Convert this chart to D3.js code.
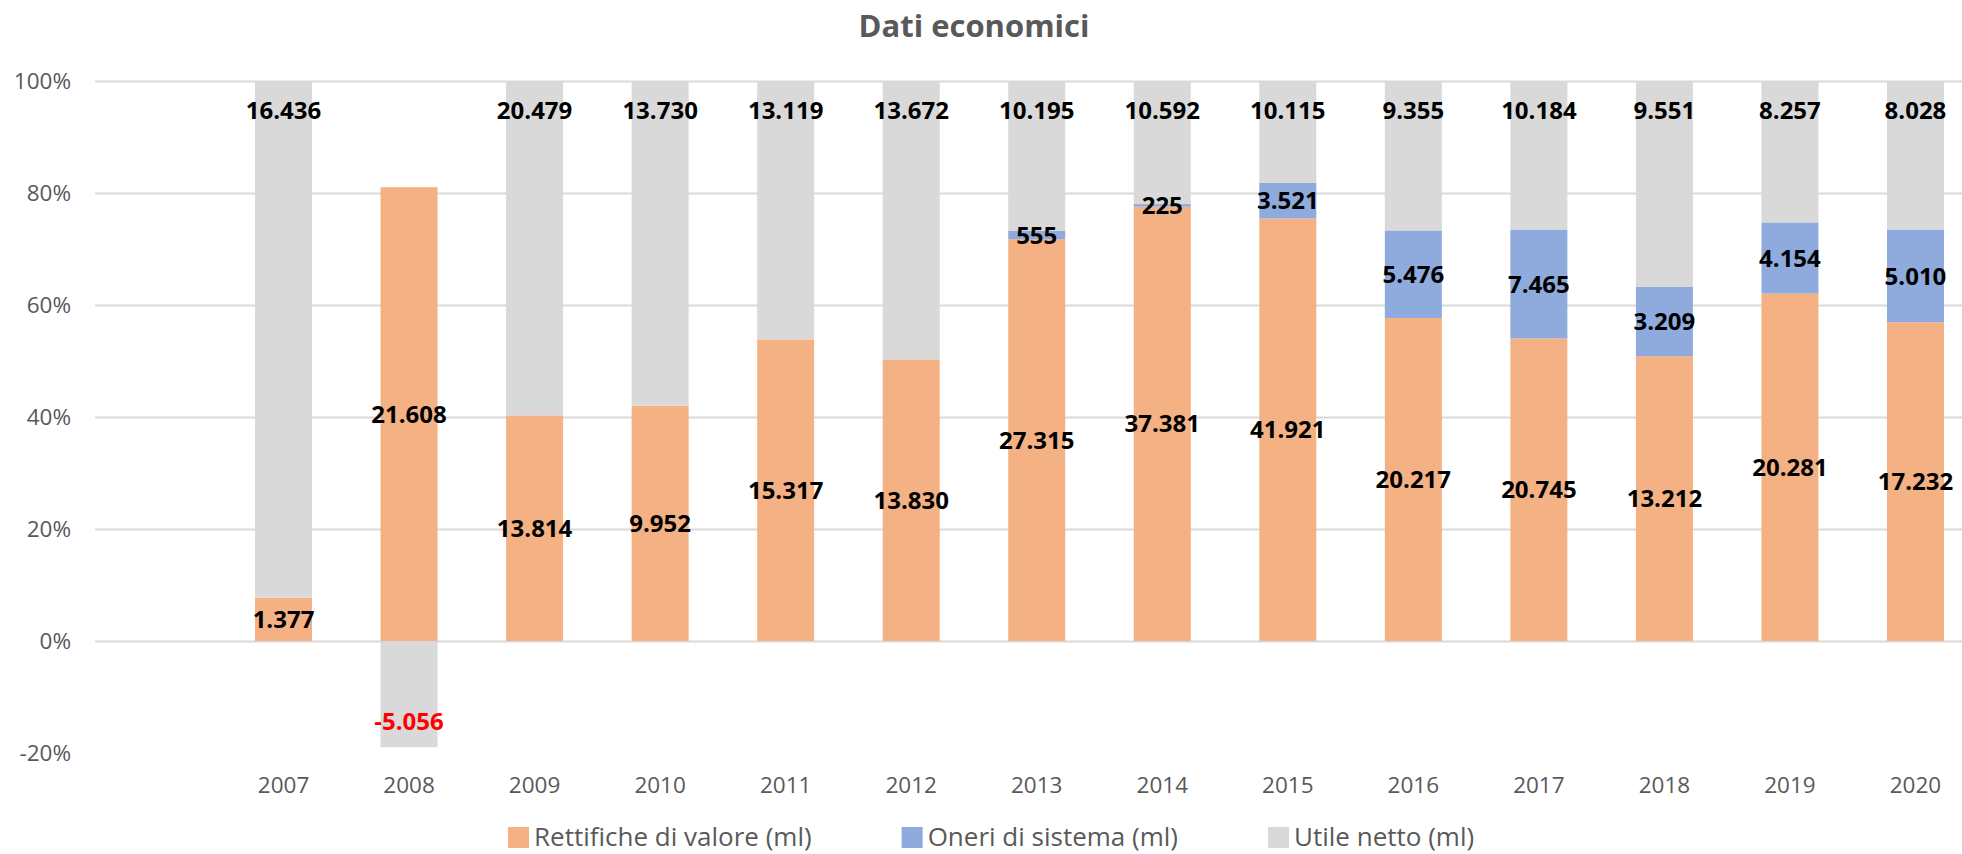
<!DOCTYPE html>
<html>
<head>
<meta charset="utf-8">
<script src="https://cdn.jsdelivr.net/npm/d3@7"></script>
<style>
  body { margin: 0; background: #fff; }
  svg { display: block; font-family: "Open Sans", sans-serif; }
</style>
</head>
<body>
<svg width="1962" height="854"></svg>
<script>
// values in millions
const years = ["2007","2008","2009","2010","2011","2012","2013","2014","2015","2016","2017","2018","2019","2020"]
const rettifiche = [1377, 21608, 13814, 9952, 15317, 13830, 27315, 37381, 41921, 20217, 20745, 13212, 20281, 17232]
const oneri = [null, null, null, null, null, null, 555, 225, 3521, 5476, 7465, 3209, 4154, 5010]
const utile = [16436, -5056, 20479, 13730, 13119, 13672, 10195, 10592, 10115, 9355, 10184, 9551, 8257, 8028]
const yTicks = [-0.2, 0, 0.2, 0.4, 0.6, 0.8, 1]
const seriesNames = ["Rettifiche di valore (ml)", "Oneri di sistema (ml)", "Utile netto (ml)"]

const orange = "#f4b183", blue = "#8faadc", grey = "#d9d9d9", textGrey = "#595959"
const colors = [orange, blue, grey]

const it = d3.formatLocale({decimal: ",", thousands: ".", grouping: [3], currency: ["€", ""], minus: "-"})
const fmtNum = it.format(",d")
const fmtPct = it.format(".0%")

const svg = d3.select("svg")

const xScale = d3.scaleBand().domain(years).range([220.75, 1978.25])
  .paddingInner(0.546).paddingOuter(0.273)
const yScale = d3.scaleLinear().domain([-0.2, 1]).range([753, 81])

// 100% stacked: share of the sum of absolute values, negatives go below zero
const stacks = years.map((yr, i) => {
  const vals = [rettifiche[i], oneri[i], utile[i]]
  const tot = d3.sum(vals, v => Math.abs(v || 0))
  let pos = 0, neg = 0
  return vals.map((v, s) => {
    const p = (v || 0) / tot
    let y0, y1
    if (p >= 0) { y0 = pos; pos += p; y1 = pos } else { y0 = neg; neg += p; y1 = neg }
    return {year: yr, series: s, value: v, y0: y0, y1: y1}
  })
})
const segs = stacks.flat().filter(d => d.value != null)

// gridlines
svg.append("g")
  .attr("transform", "translate(95,0)")
  .call(d3.axisLeft(yScale).tickValues([0, 0.2, 0.4, 0.6, 0.8, 1]).tickSize(-(1962 - 95)).tickFormat(""))
  .call(g => g.select(".domain").remove())
  .call(g => g.selectAll("line").attr("stroke", "#d9d9d9").attr("stroke-width", 2))

// y labels
svg.append("g")
  .attr("transform", "translate(95,0)")
  .call(d3.axisLeft(yScale).tickValues(yTicks).tickSize(0).tickPadding(24).tickFormat(fmtPct))
  .call(g => g.select(".domain").remove())
  .call(g => g.selectAll("text")
    .attr("font-family", "Open Sans").attr("font-size", 22.5).attr("fill", textGrey))

// x labels
svg.append("g")
  .attr("transform", "translate(0,777)")
  .call(d3.axisBottom(xScale).tickSize(0).tickPadding(0))
  .call(g => g.select(".domain").remove())
  .call(g => g.selectAll("text")
    .attr("font-family", "Open Sans").attr("font-size", 22.5).attr("fill", textGrey))

// bars
svg.append("g").selectAll("rect")
  .data(segs)
  .enter()
  .append("rect")
  .attr("x", d => xScale(d.year))
  .attr("width", xScale.bandwidth())
  .attr("y", d => yScale(Math.max(d.y0, d.y1)))
  .attr("height", d => Math.abs(yScale(d.y0) - yScale(d.y1)))
  .style("fill", d => colors[d.series])

// labels: center for the first two series, inside end for utile
svg.append("g").selectAll("text")
  .data(segs)
  .enter()
  .append("text")
  .attr("x", d => xScale(d.year) + xScale.bandwidth() / 2)
  .attr("y", d => {
    if (d.series < 2) return yScale((d.y0 + d.y1) / 2)
    return d.value >= 0 ? yScale(d.y1) + 29 : yScale(d.y1) - 26
  })
  .attr("dy", "0.36em")
  .attr("text-anchor", "middle")
  .attr("font-size", 24)
  .attr("font-weight", "bold")
  .attr("fill", d => d.value < 0 ? "#ff0000" : "#000")
  .text(d => fmtNum(d.value))

// title
svg.append("text")
  .attr("x", 974)
  .attr("y", 37)
  .attr("text-anchor", "middle")
  .attr("font-size", 31)
  .attr("font-weight", "bold")
  .attr("fill", textGrey)
  .text("Dati economici")

// legend
const legend = svg.append("g").attr("transform", "translate(508,0)")
const items = legend.selectAll("g")
  .data(seriesNames)
  .enter()
  .append("g")
items.append("rect")
  .attr("width", 21).attr("height", 21).attr("y", 827)
  .style("fill", (d, i) => colors[i])
items.append("text")
  .attr("x", 26).attr("y", 846)
  .attr("font-size", 26).attr("fill", textGrey)
  .text(d => d)
let lx = 0
items.each(function () {
  const w = 26 + this.querySelector("text").getComputedTextLength()
  d3.select(this).attr("transform", "translate(" + lx + ",0)")
  lx += w + 90
})
</script>
</body>
</html>
